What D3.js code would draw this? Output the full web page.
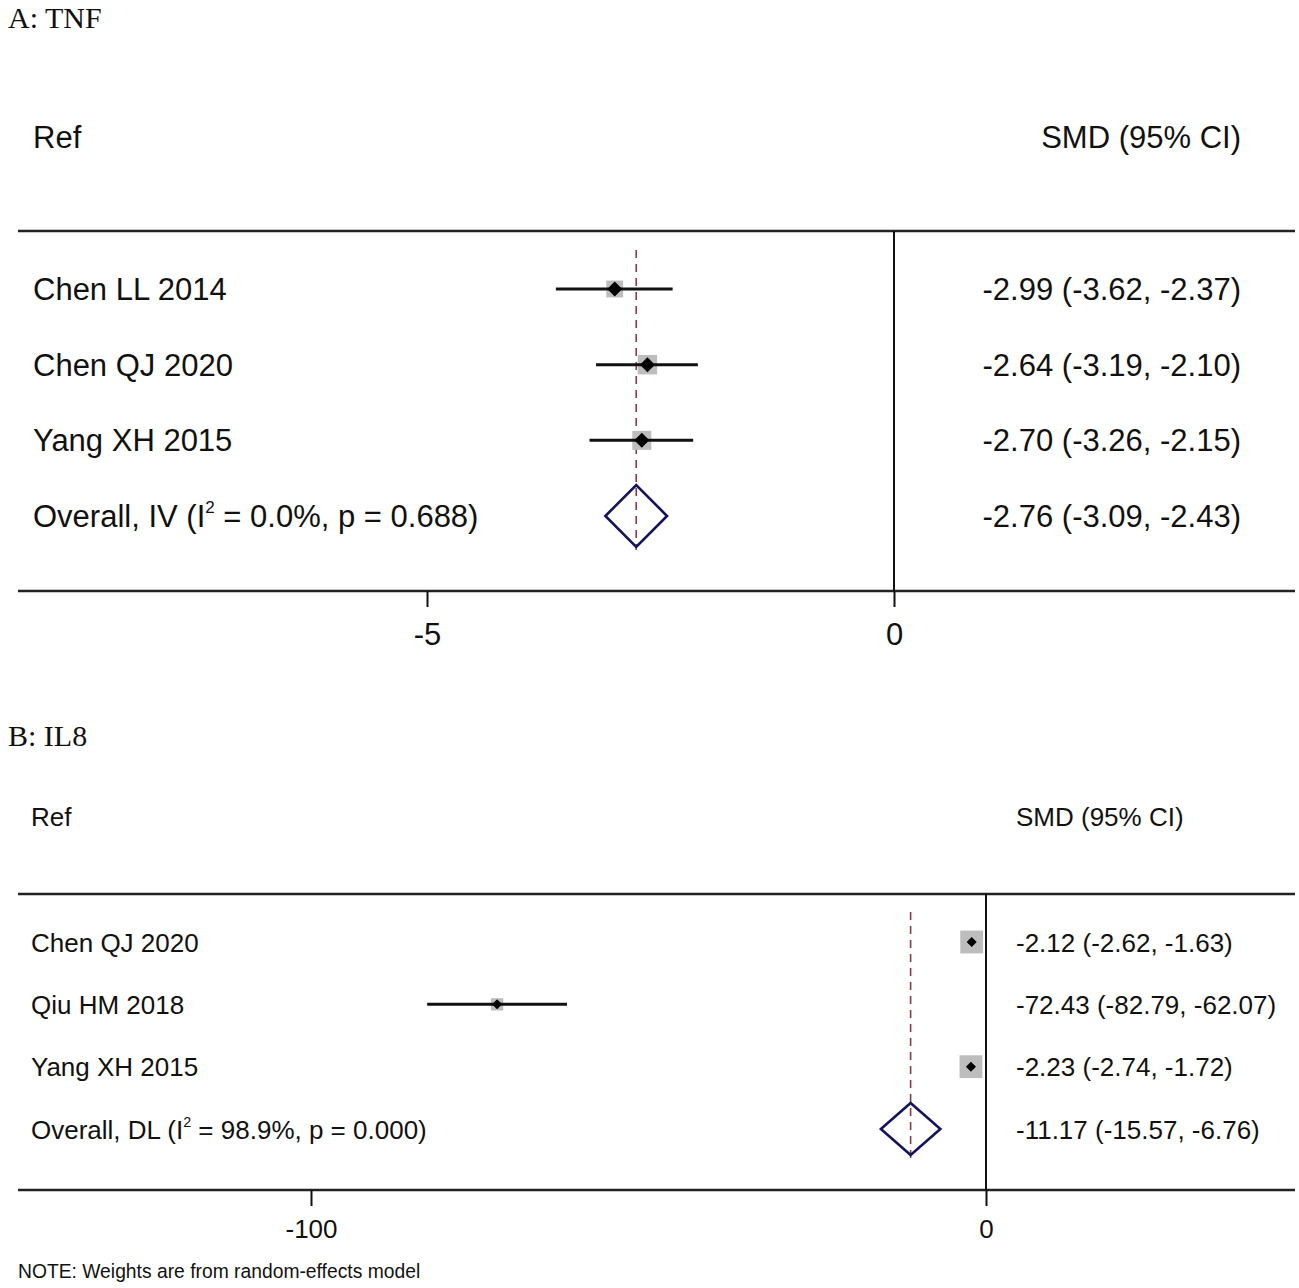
<!DOCTYPE html>
<html>
<head>
<meta charset="utf-8">
<script src="https://cdn.jsdelivr.net/npm/d3@7"></script>
<style>
  body { margin: 0; background: #fff; }
  text { font-family: "Liberation Sans", Arial, sans-serif; fill: #111; }
  .title { font-family: "Liberation Serif", "Times New Roman", serif; }
</style>
</head>
<body>
<svg id="chart" width="1299" height="1288"></svg>
<script>
//Panel A: TNF
var tnfStudies = ["Chen LL 2014", "Chen QJ 2020", "Yang XH 2015"]
var tnfEst = [-2.99, -2.64, -2.70]
var tnfLow = [-3.62, -3.19, -3.26]
var tnfHigh = [-2.37, -2.10, -2.15]
var tnfWeight = [27.7, 36.9, 35.4]
var tnfOverall = [-2.76, -3.09, -2.43]
var tnfOverallText = ["Overall, IV (I", "2", " = 0.0%, p = 0.688)"]
var tnfTicks = [-5, 0]

//Panel B: IL8
var il8Studies = ["Chen QJ 2020", "Qiu HM 2018", "Yang XH 2015"]
var il8Est = [-2.12, -72.43, -2.23]
var il8Low = [-2.62, -82.79, -2.74]
var il8High = [-1.63, -62.07, -1.72]
var il8Weight = [43.7, 12.7, 43.6]
var il8Overall = [-11.17, -15.57, -6.76]
var il8OverallText = ["Overall, DL (I", "2", " = 98.9%, p = 0.000)"]
var il8Ticks = [-100, 0]

var svg = d3.select("#chart")

//plain hyphen minus, like the Stata output
function ciText(e, l, h) {
  return e.toFixed(2) + " (" + l.toFixed(2) + ", " + h.toFixed(2) + ")"
}

//Draws one forest plot
function drawPanel(p) {
  var g = svg.append("g")

  g.append("text").attr("class", "title")
    .attr("x", 8).attr("y", p.titleY)
    .style("font-size", p.titleSize + "px")
    .text(p.title)

  g.append("text").attr("x", p.labelX).attr("y", p.headerY)
    .style("font-size", p.fontSize + "px").text("Ref")
  g.append("text").attr("x", p.valueX).attr("y", p.headerY)
    .attr("text-anchor", p.valueAnchor)
    .style("font-size", p.fontSize + "px").text("SMD (95% CI)")

  var x = d3.scaleLinear().domain(p.ticks).range(p.tickRange)
  var rows = p.studies.concat(["overall"])
  var y = d3.scalePoint().domain(rows).range(p.rowRange)

//horizontal rules
  g.selectAll(".rule").data([p.top, p.bottom]).enter()
    .append("line")
    .attr("x1", 18).attr("x2", 1295)
    .attr("y1", function(d){ return d }).attr("y2", function(d){ return d })
    .attr("stroke", "#222").attr("stroke-width", 2.5)

//null line
  g.append("line")
    .attr("x1", x(0)).attr("x2", x(0))
    .attr("y1", p.top).attr("y2", p.bottom)
    .attr("stroke", "#111").attr("stroke-width", 2)

//axis with ticks only
  var axis = g.append("g")
    .attr("transform", "translate(0," + p.bottom + ")")
    .call(d3.axisBottom(x).tickValues(p.ticks).tickSize(16).tickPadding(0)
      .tickFormat(function(d){ return String(d) }))
  axis.select(".domain").remove()
  axis.selectAll(".tick line").attr("stroke", "#111").attr("stroke-width", 2)
  axis.selectAll(".tick text")
    .attr("y", p.tickLabelY - p.bottom).attr("dy", 0)
    .style("font-size", p.fontSize + "px")
    .style("font-family", "'Liberation Sans', Arial, sans-serif")
    .attr("fill", "#111")

//overall dashed line
  g.append("line")
    .attr("x1", x(p.overall[0])).attr("x2", x(p.overall[0]))
    .attr("y1", p.dashTop).attr("y2", p.dashBottom)
    .attr("stroke", "#8b3a46").attr("stroke-width", 1.6)
    .attr("stroke-dasharray", "8,6")

  var data = p.studies.map(function(s, i) {
    return { name: s, est: p.est[i], lo: p.low[i], hi: p.high[i], w: p.weight[i] }
  })

//weight boxes
  g.selectAll(".box").data(data).enter()
    .append("rect")
    .attr("x", function(d){ return x(d.est) - p.boxK * Math.sqrt(d.w) / 2 })
    .attr("y", function(d){ return y(d.name) - p.boxK * Math.sqrt(d.w) / 2 })
    .attr("width", function(d){ return p.boxK * Math.sqrt(d.w) })
    .attr("height", function(d){ return p.boxK * Math.sqrt(d.w) })
    .attr("fill", "#bdbdbd")

//confidence intervals
  g.selectAll(".ci").data(data).enter()
    .append("line")
    .attr("x1", function(d){ return x(d.lo) }).attr("x2", function(d){ return x(d.hi) })
    .attr("y1", function(d){ return y(d.name) }).attr("y2", function(d){ return y(d.name) })
    .attr("stroke", "#111").attr("stroke-width", 3)

//point estimates
  var m = p.marker / 2
  g.selectAll(".pt").data(data).enter()
    .append("path")
    .attr("d", function(d){
      var cx = x(d.est), cy = y(d.name)
      return "M" + (cx - m) + "," + cy + "L" + cx + "," + (cy - m) +
             "L" + (cx + m) + "," + cy + "L" + cx + "," + (cy + m) + "Z"
    })
    .attr("fill", "#000")

//overall diamond
  var oy = y("overall")
  g.append("path")
    .attr("d", "M" + x(p.overall[1]) + "," + oy +
               "L" + x(p.overall[0]) + "," + (oy - p.diamondH) +
               "L" + x(p.overall[2]) + "," + oy +
               "L" + x(p.overall[0]) + "," + (oy + p.diamondH) + "Z")
    .attr("fill", "none").attr("stroke", "#14145e").attr("stroke-width", 2.6)

//study labels
  g.selectAll(".lab").data(data).enter()
    .append("text")
    .attr("x", p.labelX).attr("y", function(d){ return y(d.name) + p.textShift })
    .style("font-size", p.fontSize + "px")
    .text(function(d){ return d.name })

  var ol = g.append("text")
    .attr("x", p.labelX).attr("y", oy + p.textShift)
    .style("font-size", p.fontSize + "px")
  ol.append("tspan").text(p.overallText[0])
  ol.append("tspan").attr("dy", -p.fontSize * 0.45)
    .style("font-size", (p.fontSize * 0.55) + "px").text(p.overallText[1])
  ol.append("tspan").attr("dy", p.fontSize * 0.45).text(p.overallText[2])

//estimate text
  g.selectAll(".val").data(data).enter()
    .append("text")
    .attr("x", p.valueX).attr("y", function(d){ return y(d.name) + p.textShift })
    .attr("text-anchor", p.valueAnchor)
    .style("font-size", p.fontSize + "px")
    .text(function(d){ return ciText(d.est, d.lo, d.hi) })
  g.append("text")
    .attr("x", p.valueX).attr("y", oy + p.textShift)
    .attr("text-anchor", p.valueAnchor)
    .style("font-size", p.fontSize + "px")
    .text(ciText(p.overall[0], p.overall[1], p.overall[2]))
}

drawPanel({
  title: "A: TNF", titleY: 28, titleSize: 30,
  headerY: 148, labelX: 33, valueX: 1241, valueAnchor: "end",
  top: 231, bottom: 591, tickLabelY: 645,
  ticks: tnfTicks, tickRange: [427, 894], rowRange: [289, 516],
  fontSize: 31, textShift: 11,
  dashTop: 250, dashBottom: 550, diamondH: 31,
  boxK: 3.2, marker: 15,
  studies: tnfStudies, est: tnfEst, low: tnfLow, high: tnfHigh,
  weight: tnfWeight, overall: tnfOverall, overallText: tnfOverallText
})

drawPanel({
  title: "B: IL8", titleY: 746, titleSize: 30,
  headerY: 826, labelX: 31, valueX: 1016, valueAnchor: "start",
  top: 894, bottom: 1190, tickLabelY: 1238,
  ticks: il8Ticks, tickRange: [311, 986], rowRange: [942, 1129],
  fontSize: 26, textShift: 9.5,
  dashTop: 912, dashBottom: 1160, diamondH: 26,
  boxK: 3.45, marker: 10,
  studies: il8Studies, est: il8Est, low: il8Low, high: il8High,
  weight: il8Weight, overall: il8Overall, overallText: il8OverallText
})

svg.append("text")
  .attr("x", 18).attr("y", 1278)
  .style("font-size", "19.3px")
  .text("NOTE: Weights are from random-effects model")
</script>
</body>
</html>
